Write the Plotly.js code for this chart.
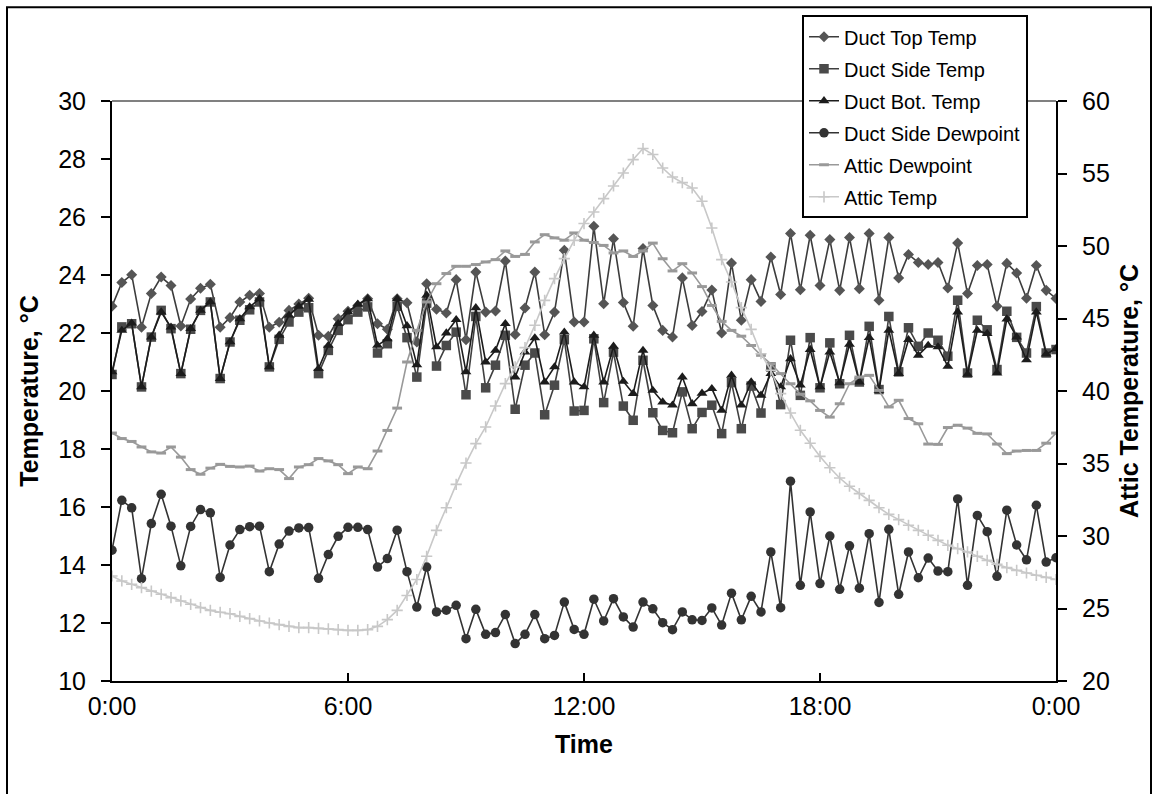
<!DOCTYPE html>
<html>
<head>
<meta charset="utf-8">
<script src="https://cdn.plot.ly/plotly-3.0.1.min.js"></script>
<style>html,body{margin:0;padding:0;background:#fff;}#chart{width:1153px;height:794px;}</style>
</head>
<body>
<div id="chart"></div>
<script>
// Sampling: readings every 15 minutes starting at 0:00 (hours)
const START_HOUR = 0;
const STEP_HOURS = 0.25;

const tickHours = [0, 6, 12, 18, 24];
const tickLabels = ["0:00", "6:00", "12:00", "18:00", "0:00"];

const ductTopTemp = [22.92,23.74,24.01,22.2,23.36,23.93,23.64,22.24,23.17,23.54,23.68,22.2,22.53,23.07,23.3,23.36,22.2,22.37,22.78,23.0,23.2,21.92,21.89,22.49,22.75,22.95,23.18,22.32,22.13,23.18,23.04,21.69,23.7,22.82,22.69,23.84,21.77,24.1,22.72,22.76,24.48,21.95,22.86,24.1,21.94,22.72,24.85,22.38,22.38,25.68,23.01,25.25,23.05,22.23,24.91,22.95,22.09,21.86,23.9,22.26,22.74,23.48,22.0,24.41,22.44,23.84,23.09,24.62,23.33,25.43,23.49,25.37,23.64,25.22,23.47,25.29,23.53,25.43,23.13,25.29,23.9,24.71,24.43,24.36,24.43,23.55,25.1,23.36,24.33,24.36,22.92,24.4,24.07,23.2,24.33,23.47,23.19];

const ductSideTemp = [20.57,22.21,22.32,20.14,21.86,22.78,22.15,20.6,22.13,22.78,23.07,20.43,21.69,22.44,22.8,23.07,20.83,21.78,22.38,22.72,22.87,20.6,21.4,22.09,22.46,22.72,22.9,21.31,21.63,22.92,21.84,20.48,23.03,20.86,21.57,22.03,19.87,22.57,20.11,20.89,21.92,19.37,20.89,21.31,19.18,20.2,21.77,19.31,19.33,21.8,19.6,21.34,19.48,18.99,21.06,19.25,18.64,18.56,19.97,18.7,19.26,19.51,18.53,20.29,18.7,20.17,19.24,20.83,19.53,21.75,19.85,21.84,20.11,21.66,20.25,21.92,20.31,22.23,20.05,22.57,20.66,22.18,21.54,22.0,21.75,21.2,23.13,20.62,22.44,22.11,20.74,22.75,21.85,21.31,22.91,21.31,21.43];

const ductBotTemp = [20.66,22.09,22.34,20.14,21.86,22.72,22.2,20.6,22.15,22.78,23.07,20.43,21.69,22.49,22.9,23.18,20.83,21.92,22.61,22.92,23.16,20.77,21.57,22.32,22.72,22.99,23.18,21.57,21.8,23.18,22.25,20.9,23.3,21.52,22.0,22.46,20.66,22.87,21.0,21.4,22.32,20.48,21.34,21.83,20.31,20.83,22.03,20.31,20.14,21.92,20.31,21.54,20.33,19.91,21.4,20.02,19.62,19.51,20.48,19.56,19.92,20.08,19.33,20.54,19.51,20.31,19.85,20.6,20.14,21.11,20.2,21.43,20.14,21.34,20.28,21.61,20.31,21.84,20.02,22.09,20.6,21.77,21.23,21.57,21.52,20.85,22.72,20.57,22.09,21.98,20.62,22.48,21.86,21.07,22.72,21.27,21.46];

const ductSideDewpoint = [14.51,16.23,15.97,13.53,15.43,16.44,15.34,13.97,15.33,15.91,15.8,13.57,14.69,15.22,15.32,15.34,13.77,14.72,15.17,15.28,15.29,13.54,14.36,14.99,15.3,15.3,15.22,13.93,14.22,15.2,13.77,12.55,13.93,12.38,12.44,12.61,11.46,12.47,11.61,11.67,12.29,11.29,11.61,12.29,11.46,11.57,12.72,11.78,11.61,12.82,12.07,12.84,12.21,11.86,12.72,12.49,12.01,11.77,12.38,12.11,12.09,12.52,11.93,13.03,12.11,12.92,12.38,14.45,12.53,16.89,13.3,15.83,13.36,15.0,13.16,14.66,13.2,15.08,12.71,15.23,12.99,14.45,13.56,14.24,13.79,13.77,16.28,13.3,15.71,15.15,13.61,15.89,14.69,14.18,16.06,14.1,14.25];

const atticDewpoint = [18.55,18.36,18.26,18.07,17.9,17.86,18.07,17.72,17.29,17.13,17.34,17.47,17.4,17.38,17.41,17.24,17.32,17.29,16.98,17.38,17.46,17.67,17.59,17.46,17.15,17.38,17.32,17.93,18.64,19.41,21.0,22.09,23.07,23.7,24.05,24.3,24.3,24.36,24.45,24.53,24.83,24.64,24.71,25.14,25.39,25.28,25.2,25.45,25.2,25.12,25.02,24.76,24.83,24.64,24.83,25.1,24.56,24.14,24.39,24.07,23.6,22.95,22.4,22.09,21.89,21.57,21.23,20.94,20.6,20.25,19.89,19.66,19.33,19.1,19.56,20.25,20.48,20.54,20.02,19.45,19.68,19.05,18.87,18.17,18.16,18.74,18.82,18.72,18.54,18.52,18.17,17.84,17.93,17.95,17.95,18.2,18.55];

const atticTemp = [27.24,26.9,26.67,26.44,26.2,25.98,25.75,25.52,25.29,25.06,24.87,24.74,24.64,24.46,24.3,24.14,24.0,23.89,23.77,23.68,23.68,23.63,23.59,23.54,23.49,23.49,23.54,23.77,24.23,24.87,25.9,27.0,28.6,30.39,31.95,33.56,35.03,36.37,37.52,38.97,40.51,41.66,42.99,44.53,46.25,47.75,49.13,50.39,51.55,52.34,53.27,54.14,55.03,55.96,56.72,56.31,55.38,54.76,54.37,54.0,53.09,51.24,49.06,47.52,45.75,44.25,42.57,41.43,39.82,38.48,37.29,36.4,35.49,34.71,34.0,33.43,32.92,32.46,31.95,31.49,31.13,30.74,30.39,30.05,29.7,29.36,29.13,28.9,28.6,28.32,28.05,27.82,27.63,27.45,27.29,27.15,27.0];

const FONT = "'Liberation Sans', Arial, sans-serif";

function series(name, values, lineColor, marker, yaxis) {
  return {
    type: "scatter", mode: "lines+markers", name: name, legendgroup: name,
    x0: START_HOUR, dx: STEP_HOURS, y: values,
    yaxis: yaxis || "y",
    line: {color: lineColor, width: 1.6},
    marker: marker,
    cliponaxis: true
  };
}

const data = [
  series("Duct Top Temp", ductTopTemp, "#3c3c3c", {symbol: "diamond", size: 8.5, color: "#555555"}),
  series("Duct Side Temp", ductSideTemp, "#404040", {symbol: "square", size: 9.5, color: "#4a4a4a"}),
  series("Duct Bot. Temp", ductBotTemp, "#1c1c1c", {symbol: "triangle-up", size: 9.5, color: "#1c1c1c"}),
  series("Duct Side Dewpoint", ductSideDewpoint, "#333333", {symbol: "circle", size: 9.5, color: "#333333"}),
  series("Attic Dewpoint", atticDewpoint, "#999999", {symbol: "line-ew", size: 7, color: "#999999", line: {width: 3, color: "#999999"}}),
  series("Attic Temp", atticTemp, "#c8c8c8", {symbol: "cross-thin", size: 8, color: "#c8c8c8", line: {width: 1.6, color: "#c8c8c8"}}, "y2")
];

// pixel helpers for decorations (plot area: x 112..1056, y 101..681)
const PL = 112, PW = 944, PB = 680.7, PH = 580;
const px = v => (v - PL) / PW;
const py = v => (PB - v) / PH;

const layout = {
  width: 1153, height: 794,
  margin: {l: 112, r: 97, t: 101, b: 113, pad: 0},
  paper_bgcolor: "#ffffff", plot_bgcolor: "#ffffff",
  font: {family: FONT, color: "#000000", size: 25},
  showlegend: true,
  legend: {
    x: px(802), y: py(15), xanchor: "left", yanchor: "top",
    bgcolor: "#ffffff", bordercolor: "#000000", borderwidth: 2,
    font: {family: FONT, size: 20, color: "#000000"},
    traceorder: "grouped", tracegroupgap: 3
  },
  xaxis: {
    range: [0, 24], tickvals: tickHours, ticktext: tickLabels,
    showline: true, linecolor: "#000000", linewidth: 2,
    ticks: "inside", ticklen: 8, tickwidth: 2, tickcolor: "#000000",
    showgrid: false, zeroline: false,
    tickfont: {family: FONT, size: 25}, ticklabelstandoff: 2,
    title: {text: "<b>Time</b>", font: {family: FONT, size: 25}, standoff: 16}
  },
  yaxis: {
    range: [10, 30], dtick: 2,
    showline: true, linecolor: "#000000", linewidth: 2,
    ticks: "outside", ticklen: 9, tickwidth: 2, tickcolor: "#000000",
    showgrid: false, zeroline: false,
    tickfont: {family: FONT, size: 25}, ticklabelstandoff: 10,
    title: {text: "<b>Temperature, °C</b>", font: {family: FONT, size: 25}, standoff: 12}
  },
  yaxis2: {
    range: [20, 60], dtick: 5, overlaying: "y", side: "right", anchor: "x",
    showline: true, linecolor: "#000000", linewidth: 2,
    ticks: "outside", ticklen: 9, tickwidth: 2, tickcolor: "#000000",
    showgrid: false, zeroline: false,
    tickfont: {family: FONT, size: 25}, ticklabelstandoff: 10,
    title: {text: "<b>Attic Temperature, °C</b>", font: {family: FONT, size: 25}, standoff: 12}
  },
  yaxis3: {
    range: [20, 60], dtick: 5, overlaying: "y", side: "right", anchor: "x",
    showline: false, ticks: "inside", ticklen: 9, tickwidth: 2, tickcolor: "#000000",
    showticklabels: false, showgrid: false, zeroline: false
  },
  shapes: [
    {type: "line", xref: "paper", yref: "paper", x0: 0, x1: 1, y0: 1, y1: 1,
     line: {color: "#808080", width: 2}, layer: "below"},
    {type: "rect", xref: "paper", yref: "paper", x0: px(7), x1: px(1151), y0: py(820), y1: py(7),
     line: {color: "#000000", width: 2}, fillcolor: "rgba(0,0,0,0)", layer: "below"}
  ]
};

Plotly.newPlot("chart", data, layout, {displayModeBar: false, staticPlot: true});
</script>
</body>
</html>
